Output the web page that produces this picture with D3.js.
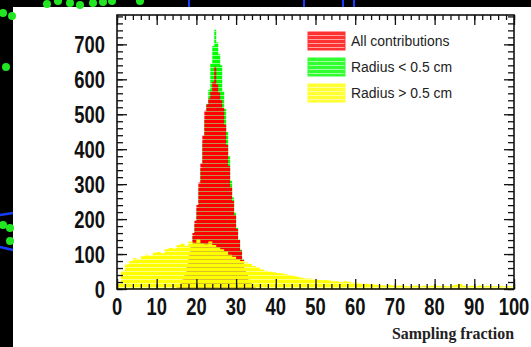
<!DOCTYPE html>
<html>
<head>
<meta charset="utf-8">
<script src="https://cdn.jsdelivr.net/npm/d3@7/dist/d3.min.js"></script>
<style>
  html, body { margin: 0; padding: 0; background: #000; }
  svg { display: block; }
</style>
</head>
<body>
<svg id="chart" width="531" height="347"></svg>
<script>
// histogram contents
const binWidthPeak = 0.5
const redStart = 15
const redValues = [5,10,18,30,48,72,98,128,160,195,240,305,360,440,510,528,545,565,592,636,
  585,562,540,518,470,412,352,292,252,212,172,140,110,84,58,40,26,16,9,4]
const greenStart = 15
const greenValues = [4,8,15,26,42,65,90,120,150,185,228,290,345,420,485,530,570,645,695,742,
  705,672,640,565,515,450,380,310,262,218,176,142,112,85,60,42,28,17,10,5]
const yellowStart = 0
const yellowWidth = 1
const yellowValues = [18,52,70,80,88,86,94,98,96,104,
  106,102,114,118,116,126,130,124,136,132,
  142,130,128,136,126,120,114,108,98,92,
  86,80,76,72,66,62,56,52,50,48,
  46,45,42,40,38,35,32,30,30,28,
  26,25,26,24,22,22,20,22,21,18,
  18,16,15,14,13,12,11,10,12,10,
  9,10,9,8,9,10,8,9,8,10,
  9,8,9,8,10,12,15,9,8,9,
  8,10,8,9,8,8,9,7,8,7]

const xTicks = [0,10,20,30,40,50,60,70,80,90,100]
const yTicks = [0,100,200,300,400,500,600,700]
const legendNames = ["All contributions", "Radius < 0.5 cm", "Radius > 0.5 cm"]
const legendColors = ["#ff0000", "#00ff00", "#ffff00"]

const svg = d3.select("#chart")

// screenshot surroundings
svg.append("rect").attr("width",531).attr("height",347).attr("fill","#000")
svg.append("rect").attr("x",13).attr("y",7).attr("width",518).attr("height",340).attr("fill","#fff")
const dots = [[3,13],[12,16],[47,4],[58,1],[70,3],[80,5],[93,3],[103,2],[112,1],[140,1],[6,67],[3,225],[10,228],[10,241]]
svg.selectAll("circle.dot").data(dots).enter().append("circle")
  .attr("cx",d=>d[0]).attr("cy",d=>d[1]).attr("r",4).attr("fill","#22e622")
svg.append("path").attr("d","M0,215L13,213M0,247L13,250").attr("stroke","#1a3cff").attr("stroke-width",2.5)
svg.selectAll("rect.blue").data([188,303,342,353]).enter().append("rect")
  .attr("x",d=>d).attr("y",0).attr("width",2).attr("height",7).attr("fill","#1a3cff")

const x = d3.scaleLinear().domain([0,100]).range([117,514])
const y = d3.scaleLinear().domain([0,784]).range([289,15])

// striped fills (ROOT-like texture)
const defs = svg.append("defs")
legendColors.forEach(function(c,i){
  let p = defs.append("pattern").attr("id","fill"+i)
    .attr("patternUnits","userSpaceOnUse").attr("width",8).attr("height",4)
  p.append("rect").attr("width",8).attr("height",3).attr("fill",c)
  p.append("rect").attr("y",3).attr("width",8).attr("height",1).attr("fill",c).attr("opacity",0.45)
})

function steps(start,w,values){
  let pts = values.map((v,i)=>({x:start+i*w, v:v}))
  pts.push({x:start+values.length*w, v:values[values.length-1]})
  return pts
}
const area = d3.area().curve(d3.curveStepAfter)
  .x(d=>x(d.x)).y0(y(0)).y1(d=>y(d.v))

svg.append("path").datum(steps(greenStart,binWidthPeak,greenValues)).attr("d",area).attr("fill","url(#fill1)")
svg.append("path").datum(steps(redStart,binWidthPeak,redValues)).attr("d",area).attr("fill","url(#fill0)")
svg.append("path").datum(steps(yellowStart,yellowWidth,yellowValues)).attr("d",area).attr("fill","url(#fill2)")

// frame with inward ticks on all sides
const xMinor = d3.range(0,101,2)
const yMinor = d3.range(0,781,20)
function tickAxis(axis,ticks,size,tx,ty){
  let g = svg.append("g").attr("transform","translate("+tx+","+ty+")")
    .call(axis.tickValues(ticks).tickSize(size).tickFormat(""))
  g.select(".domain").remove()
  g.selectAll("line").attr("stroke","#111").attr("stroke-width",1.3)
}
tickAxis(d3.axisLeft(y),yMinor,-6,117,0)
tickAxis(d3.axisLeft(y),yTicks,-10,117,0)
tickAxis(d3.axisRight(y),yMinor,-6,514,0)
tickAxis(d3.axisRight(y),yTicks,-10,514,0)
tickAxis(d3.axisBottom(x),xMinor,-5,0,289)
tickAxis(d3.axisBottom(x),xTicks,-10,0,289)
tickAxis(d3.axisTop(x),xMinor,-5,0,15)
tickAxis(d3.axisTop(x),xTicks,-10,0,15)
svg.append("rect").attr("x",117).attr("y",15).attr("width",397).attr("height",274)
  .attr("fill","none").attr("stroke","#111").attr("stroke-width",1.6)

// tick labels, bold and condensed
svg.selectAll("text.ylab").data(yTicks).enter().append("text")
  .attr("transform",d=>"translate(105,"+(y(d)+9)+") scale(0.8,1)")
  .attr("text-anchor","end")
  .style("font-family","'Liberation Sans', Arial, sans-serif")
  .style("font-weight","bold").style("font-size","23px").attr("fill","#111")
  .text(d=>d)
svg.selectAll("text.xlab").data(xTicks).enter().append("text")
  .attr("transform",d=>"translate("+x(d)+",315) scale(0.8,1)")
  .attr("text-anchor","middle")
  .style("font-family","'Liberation Sans', Arial, sans-serif")
  .style("font-weight","bold").style("font-size","23px").attr("fill","#111")
  .text(d=>d)
svg.append("text").attr("x",514).attr("y",339).attr("text-anchor","end")
  .attr("textLength",122).attr("lengthAdjust","spacingAndGlyphs")
  .style("font-family","'Liberation Serif', 'Times New Roman', serif")
  .style("font-weight","bold").style("font-size","16px").attr("fill","#222")
  .text("Sampling fraction")

// legend
let leg = svg.selectAll("g.leg").data(legendNames).enter().append("g")
  .attr("transform",(d,i)=>"translate(308,"+(32+i*26)+")")
leg.append("rect").attr("width",37).attr("height",18)
  .attr("fill",(d,i)=>"url(#fill"+i+")").attr("opacity",0.8)
  .attr("stroke",(d,i)=>legendColors[i]).attr("stroke-width",1)
leg.append("text").attr("transform","translate(43,14) scale(0.93,1)")
  .style("font-family","'Liberation Sans', Arial, sans-serif")
  .style("font-size","15px").attr("fill","#222")
  .text(d=>d)
</script>
</body>
</html>
